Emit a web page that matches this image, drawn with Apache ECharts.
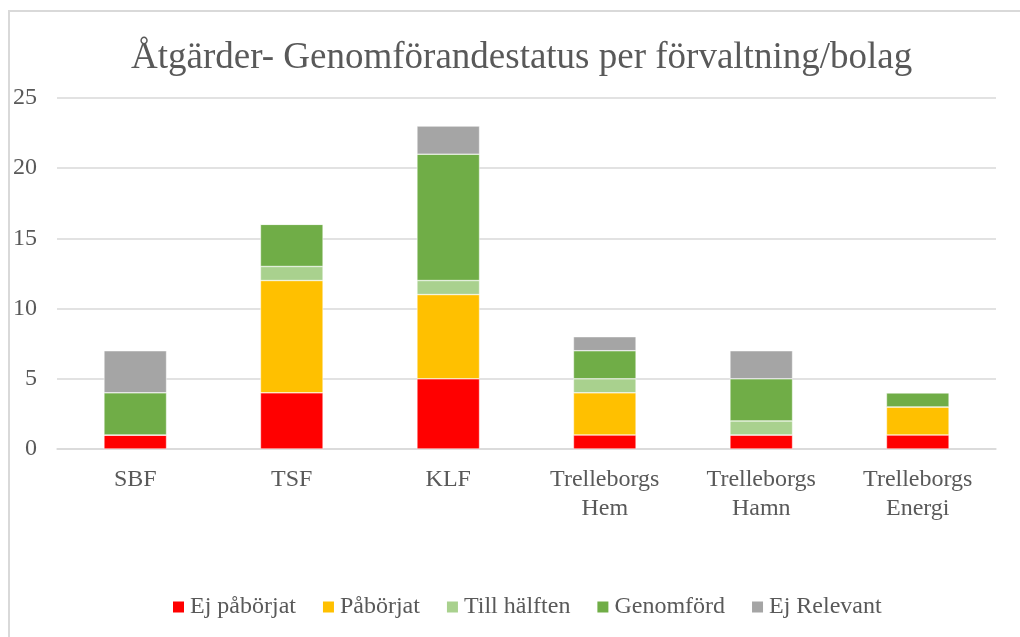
<!DOCTYPE html>
<html>
<head>
<meta charset="utf-8">
<script src="https://cdn.jsdelivr.net/npm/echarts@6/dist/echarts.min.js"></script>
<style>
html,body{margin:0;padding:0;background:#fff;}
#frame{position:absolute;left:8px;top:10px;width:1100px;height:700px;border-left:2px solid #d9d9d9;border-top:2px solid #d9d9d9;}
#main{position:absolute;left:0;top:0;width:1020px;height:637px;}
</style>
</head>
<body>
<div id="frame"></div>
<div id="main"></div>
<script>
var categories=['SBF','TSF','KLF','Trelleborgs\nHem','Trelleborgs\nHamn','Trelleborgs\nEnergi']
var ejPaborjat=[1,4,5,1,1,1]
var paborjat=[0,8,6,3,0,2]
var tillHalften=[0,1,1,1,1,0]
var genomford=[3,3,9,2,3,1]
var ejRelevant=[3,0,2,1,2,0]
var seriesNames=['Ej påbörjat','Påbörjat','Till hälften','Genomförd','Ej Relevant']
var seriesColors=['#FF0000','#FFC000','#A9D18E','#70AD47','#A5A5A5']
var seriesData=[ejPaborjat,paborjat,tillHalften,genomford,ejRelevant]

var font='"Liberation Serif", "Times New Roman", serif'
var chartDom=document.getElementById('main')
var myChart=echarts.init(chartDom)

var series=seriesNames.map(function(name,i){
	return {
		name:name,
		type:'bar',
		stack:'total',
		barWidth:'40%',
		itemStyle:{color:seriesColors[i],borderColor:'#ffffff',borderWidth:0.5},
		data:seriesData[i]
	}
})

var option={
	animation:false,
	title:{
		text:'Åtgärder- Genomförandestatus per förvaltning/bolag',
		left:126,
		top:35,
		textStyle:{fontFamily:font,fontSize:37,fontWeight:'normal',color:'#595959'}
	},
	legend:{
		left:166,
		bottom:13,
		itemWidth:13,
		itemHeight:13,
		itemGap:25,
		icon:'rect',
		textStyle:{fontFamily:font,fontSize:24,color:'#595959'},
		data:seriesNames
	},
	grid:{left:57,right:24,top:98,bottom:188,containLabel:false},
	xAxis:{
		type:'category',
		data:categories,
		axisLine:{lineStyle:{color:'#d9d9d9',width:1.5}},
		axisTick:{show:false},
		axisLabel:{fontFamily:font,fontSize:24,color:'#595959',margin:16,lineHeight:29}
	},
	yAxis:{
		type:'value',
		min:0,
		max:25,
		interval:5,
		axisLine:{show:false},
		axisTick:{show:false},
		splitLine:{lineStyle:{color:'#d9d9d9',width:1.5}},
		axisLabel:{fontFamily:font,fontSize:24,color:'#595959',margin:20}
	},
	series:series
}
myChart.setOption(option)
</script>
</body>
</html>
